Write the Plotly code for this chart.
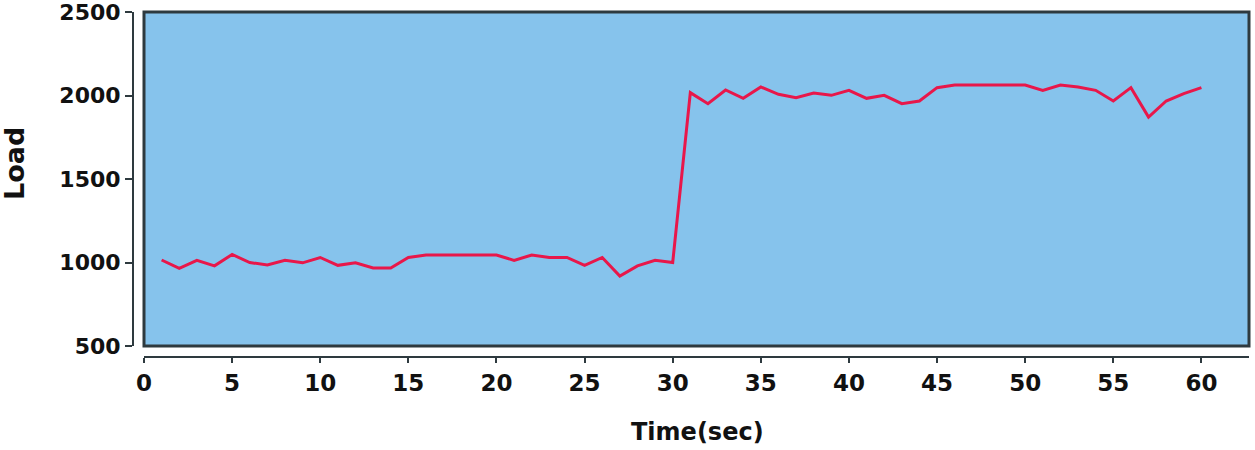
import plotly.graph_objects as go

time_sec = list(range(1, 61))
load = [1015, 965, 1013, 980, 1048, 1000, 985, 1013, 998, 1030,
        983, 998, 967, 967, 1030, 1045, 1045, 1045, 1045, 1045,
        1013, 1045, 1030, 1030, 983, 1030, 919, 980, 1013, 1000,
        2017, 1951, 2033, 1983, 2051, 2007, 1987, 2015, 2001, 2031,
        1983, 2001, 1951, 1967, 2047, 2063, 2063, 2063, 2063, 2063,
        2031, 2063, 2051, 2031, 1967, 2047, 1871, 1967, 2011, 2047]

x_ticks = [0, 5, 10, 15, 20, 25, 30, 35, 40, 45, 50, 55, 60]
y_ticks = [500, 1000, 1500, 2000, 2500]

W, H = 1255, 450
dark = "#2E3A3F"
xfont = dict(family="DejaVu Sans", size=23, color="#111111", weight="bold")
yfont = dict(family="DejaVu Sans", size=22, color="#111111", weight="bold")

xd = [144 / W, 1249 / W]
yd = [(H - 346) / H, (H - 12) / H]

fig = go.Figure(go.Scatter(x=time_sec, y=load, mode="lines",
                           line=dict(color="#E8174A", width=3)))

fig.update_layout(
    width=W, height=H,
    margin=dict(l=0, r=0, t=0, b=0),
    paper_bgcolor="white", plot_bgcolor="rgba(0,0,0,0)",
    showlegend=False,
    xaxis=dict(domain=xd, range=[0, 62.7], tickvals=x_ticks,
               anchor="free", position=(H - 357) / H,
               showgrid=False, zeroline=False, showline=True,
               linecolor=dark, linewidth=2, ticks="outside",
               ticklen=5, tickwidth=2, tickcolor=dark,
               tickfont=xfont, automargin=False, ticklabeloverflow="allow"),
    yaxis=dict(domain=yd, range=[500, 2500], tickvals=y_ticks,
               anchor="free", position=133 / W,
               showgrid=False, zeroline=False, showline=True,
               linecolor=dark, linewidth=2, ticks="outside",
               ticklen=7, tickwidth=2, tickcolor=dark,
               tickfont=yfont, automargin=False, ticklabeloverflow="allow"),
    shapes=[dict(type="rect", xref="paper", yref="paper",
                 x0=xd[0], x1=xd[1], y0=yd[0], y1=yd[1],
                 fillcolor="#86C3EC", line=dict(color=dark, width=3),
                 layer="below")],
    annotations=[
        dict(text="Load", xref="paper", yref="paper", x=14 / W, y=(H - 164) / H,
             xanchor="center", yanchor="middle",
             showarrow=False, textangle=-90,
             font=dict(family="DejaVu Sans", size=27, color="#111111", weight="bold")),
        dict(text="Time(sec)", xref="paper", yref="paper", x=697 / W, y=(H - 432) / H,
             xanchor="center", yanchor="middle",
             showarrow=False,
             font=dict(family="DejaVu Sans", size=24, color="#111111", weight="bold")),
    ],
)

fig.write_html("out.html", config={"displayModeBar": False},
               post_script="document.body.style.margin='0px';")
